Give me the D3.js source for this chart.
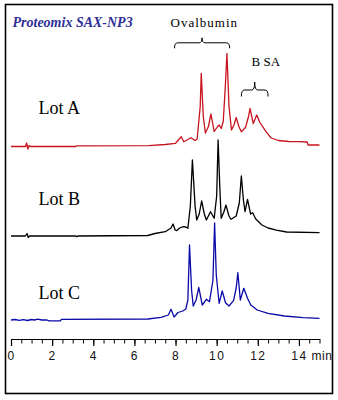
<!DOCTYPE html>
<html>
<head>
<meta charset="utf-8">
<script src="https://cdn.jsdelivr.net/npm/d3@7"></script>
<style>
  html, body { margin: 0; padding: 0; background: #fff; }
  svg { display: block; }
  .serif { font-family: "Liberation Serif", "DejaVu Serif", serif; }
  .sans { font-family: "Liberation Sans", Arial, sans-serif; }
</style>
</head>
<body>
<svg id="chart" width="338" height="400"></svg>
<script>
// Retention time (min) and detector signal (mAU) for each lot
const lotATime = [0, 0.7, 0.76, 0.82, 0.88, 0.95, 3.15, 3.2, 6.7, 7.5, 8.0, 8.28, 8.4, 8.6, 8.75, 8.95, 9.05, 9.2, 9.25, 9.35, 9.45, 9.6, 9.72, 9.88, 10.05, 10.12, 10.22, 10.32, 10.42, 10.5, 10.6, 10.72, 10.85, 10.95, 11.08, 11.2, 11.4, 11.55, 11.62, 11.78, 11.95, 12.1, 12.4, 12.65, 13.0, 13.5, 14.0, 14.4, 14.45, 15.0];
const lotASignal = [0, 0, 3.5, -2.5, 1, 0, 0, 0.6, 0.8, 2.0, 3.2, 9.8, 4.8, 7, 8.8, 6, 7.5, 40, 73, 30, 13.5, 20, 32.5, 15, 20, 21.5, 18, 25, 60, 93, 40, 16.5, 22, 29, 20, 14.8, 19, 30, 38, 23, 31.5, 24, 14.8, 8.5, 6, 5, 4.8, 4.5, 1.5, 1.5];

const lotBTime = [0, 0.7, 0.78, 0.84, 0.9, 3.15, 3.2, 3.25, 6.65, 7.0, 7.5, 7.78, 7.88, 7.98, 8.05, 8.2, 8.38, 8.5, 8.6, 8.72, 8.82, 8.95, 9.03, 9.15, 9.27, 9.4, 9.5, 9.7, 9.88, 10.0, 10.07, 10.15, 10.22, 10.35, 10.45, 10.6, 10.7, 10.95, 11.1, 11.2, 11.3, 11.38, 11.5, 11.65, 11.75, 11.9, 12.2, 12.5, 12.9, 13.4, 15.0];
const lotBSignal = [0, 0, 2.5, -1.5, 0, 0, -0.8, 0, 0.5, 2.5, 4.3, 8, 12, 6, 5.3, 8, 9.3, 9, 7.7, 30, 76, 30, 16, 22, 35, 22, 16, 24.3, 17.7, 40, 96, 50, 17.7, 24, 31, 20, 16.7, 20, 33, 60, 36, 24.3, 36.7, 22, 23.3, 17, 11, 8, 5.8, 4, 3.3];

const lotCTime = [0, 0.2, 0.4, 0.6, 0.8, 1.0, 1.15, 1.3, 1.5, 1.75, 1.85, 2.4, 2.45, 6.65, 7.3, 7.65, 7.78, 7.93, 8.12, 8.35, 8.5, 8.6, 8.68, 8.78, 8.86, 9.0, 9.13, 9.3, 9.5, 9.65, 9.82, 9.9, 9.98, 10.12, 10.27, 10.43, 10.6, 10.82, 10.95, 11.03, 11.15, 11.32, 11.5, 11.66, 11.97, 12.5, 13.3, 14.2, 15.0];
const lotCSignal = [0, 0.5, -0.3, 0.3, -0.5, 0.5, 0, 0.8, 0, 0, -0.8, -0.8, 0.7, 1, 2.7, 5, 10.7, 3, 7.5, 9, 11, 20, 75, 30, 14, 20, 32.7, 15, 20.7, 18.3, 40, 97, 45, 16.7, 29, 17.3, 14, 19.3, 32, 47.3, 20, 31.7, 21.7, 15, 10, 6.7, 4, 2.3, 1.7];

const lotNames = ["Lot A", "Lot B", "Lot C"];
const majorTicks = [0, 2, 4, 6, 8, 10, 12, 14];
const minorTicks = d3.range(0, 15.01, 0.5);
const timeUnit = "min";
const chartTitle = "Proteomix SAX-NP3";
const proteinGroups = [
  { name: "Ovalbumin", start: 7.95, end: 10.63 },
  { name: "B SA", start: 11.2, end: 12.5 }
];

const svg = d3.select("#chart");

// Outer frame
svg.append("rect")
  .attr("x", 5.5).attr("y", 4.5)
  .attr("width", 327).attr("height", 389)
  .attr("fill", "none").attr("stroke", "#000").attr("stroke-width", 1.6);

const x = d3.scaleLinear().domain([0, 15]).range([11, 319.5]);
// Signal scale: shared height per mAU, each trace shifted to its own baseline
const y = d3.scaleLinear().domain([0, 100]).range([0, -100]);

const traces = [
  { name: lotNames[0], t: lotATime, s: lotASignal, color: "#c8141e", base: 146.5, labelY: 113.5 },
  { name: lotNames[1], t: lotBTime, s: lotBSignal, color: "#000000", base: 236, labelY: 205 },
  { name: lotNames[2], t: lotCTime, s: lotCSignal, color: "#0a0aa8", base: 320, labelY: 299 }
];

const line = d3.line()
  .x(d => x(d[0]))
  .y(d => y(d[1]))
  .curve(d3.curveLinear);

traces.forEach(tr => {
  const g = svg.append("g").attr("transform", `translate(0,${tr.base})`);
  g.append("path")
    .datum(d3.zip(tr.t, tr.s))
    .attr("d", line)
    .attr("fill", "none")
    .attr("stroke", tr.color)
    .attr("stroke-width", 1.3)
    .attr("stroke-linejoin", "round");
  svg.append("text")
    .attr("class", "serif")
    .attr("x", 38.5).attr("y", tr.labelY)
    .style("font-size", "18px")
    .attr("fill", "#000")
    .text(tr.name);
});

// Title
svg.append("text")
  .attr("class", "serif")
  .attr("x", 12.5).attr("y", 26.5)
  .style("font-style", "italic").style("font-weight", "bold")
  .style("font-size", "14px")
  .attr("fill", "#2e2e96")
  .text(chartTitle);

// Curly brace drawn over a time range
function brace(t0, t1, yLine, depth, tip) {
  const x0 = x(t0), x1 = x(t1), xm = (x0 + x1) / 2;
  const r = 3;
  const p = d3.path();
  p.moveTo(x0, yLine + depth);
  p.quadraticCurveTo(x0, yLine, x0 + r, yLine);
  p.lineTo(xm - r, yLine);
  p.quadraticCurveTo(xm, yLine, xm, yLine - tip);
  p.quadraticCurveTo(xm, yLine, xm + r, yLine);
  p.lineTo(x1 - r, yLine);
  p.quadraticCurveTo(x1, yLine, x1, yLine + depth);
  svg.append("path").attr("d", p.toString())
    .attr("fill", "none").attr("stroke", "#000").attr("stroke-width", 1);
}

brace(proteinGroups[0].start, proteinGroups[0].end, 42.8, 5.5, 5);
svg.append("text")
  .attr("class", "serif")
  .attr("x", 170.5).attr("y", 26.5)
  .style("font-size", "13px").style("letter-spacing", "1px")
  .attr("fill", "#000")
  .text(proteinGroups[0].name);

brace(proteinGroups[1].start, proteinGroups[1].end, 90, 6.5, 8);
svg.append("text")
  .attr("class", "serif")
  .attr("x", 251.5).attr("y", 65.7)
  .style("font-size", "13px")
  .attr("fill", "#000")
  .text(proteinGroups[1].name);

// Time axis: minor ticks every 0.5 min, labelled majors every 2 min
const axisY = 339;

svg.append("g")
  .attr("transform", `translate(0,${axisY})`)
  .call(d3.axisBottom(x).tickValues(minorTicks).tickSize(4.5).tickSizeOuter(0).tickFormat(""))
  .call(g => g.select(".domain").attr("stroke-width", 1.2))
  .call(g => g.selectAll(".tick line").attr("stroke-width", 1));

svg.append("g")
  .attr("transform", `translate(0,${axisY})`)
  .call(d3.axisBottom(x).tickValues(majorTicks).tickSize(7).tickSizeOuter(0).tickPadding(5)
    .tickFormat(d => d))
  .call(g => g.select(".domain").remove())
  .call(g => g.selectAll(".tick line").attr("stroke-width", 1.2))
  .call(g => g.selectAll(".tick text")
    .attr("class", "sans")
    .attr("font-family", null).attr("font-size", null)
    .style("font-size", "12px")
    .style("letter-spacing", "1.5px")
    .attr("fill", "#111"));

svg.append("text")
  .attr("class", "sans")
  .attr("x", 311.5).attr("y", 359.5)
  .style("font-size", "12px").style("letter-spacing", "0.6px")
  .attr("fill", "#111")
  .text(timeUnit);
</script>
</body>
</html>
